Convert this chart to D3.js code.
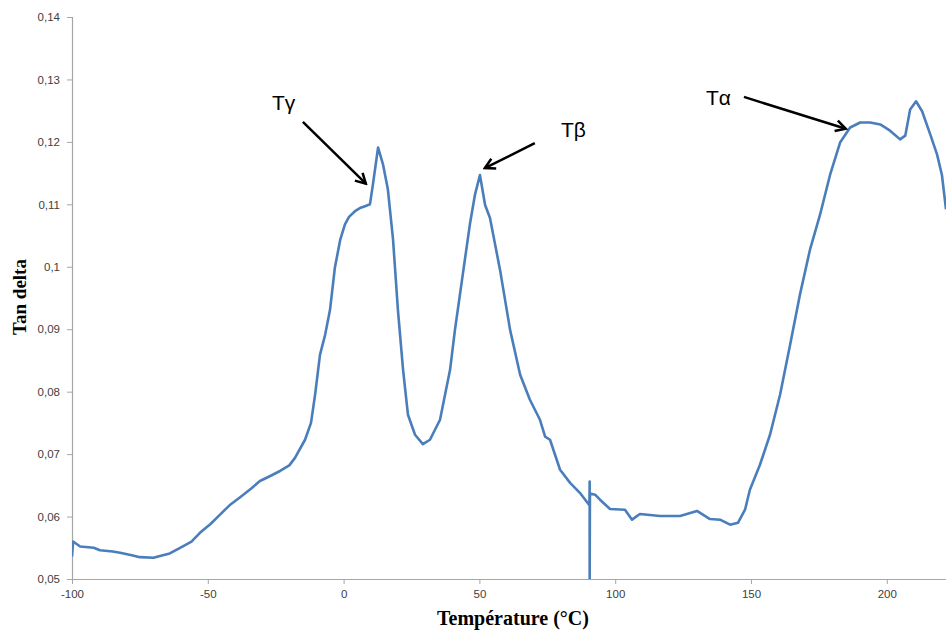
<!DOCTYPE html>
<html><head><meta charset="utf-8">
<script src="https://cdn.jsdelivr.net/npm/d3@7"></script>
<style>body{margin:0;background:#fff}svg{display:block}</style>
</head><body>
<script>
// Temperature (°C)
const temps = [-100,-99.6,-97,-92,-89.7,-85,-82.3,-78,-75,-70,-67.6,-64,-60.2,-56,-52.9,-49,-45.5,-42,-38.1,-34,-30.8,-27,-23.4,-20,-17.9,-14.2,-12,-10.5,-8.7,-6.8,-5,-3.2,-1.2,0.5,2,4.2,6,7.9,9.7,10.8,12.7,14.5,16.3,18.2,20,21.9,23.7,26.3,29.2,31.8,35.5,39.2,41,43.6,46.5,48.4,50.2,52.1,53.9,57.6,61.3,65,68.6,72.3,74.2,76,79.7,83.4,87,90.5,90.6,90.6,90.7,92.6,94.4,98.1,103.6,106.2,109.1,116.5,123.9,130.1,134.9,138.6,142.3,145.2,147.8,149.6,153.3,157,160.7,164.4,168,171.7,175.4,179.1,182.8,186.5,190.2,193.9,197.6,201.2,204.9,206.8,208.6,210.8,213,216,218.5,220.3,221.8];
// Tan delta values
const tanDelta = [0.0536,0.0560,0.0552,0.0550,0.0546,0.0544,0.0542,0.0538,0.0535,0.0534,0.0537,0.0541,0.0550,0.0560,0.0574,0.0588,0.0603,0.0618,0.0631,0.0645,0.0657,0.0665,0.0673,0.0682,0.0694,0.0723,0.0750,0.0795,0.0859,0.0891,0.0931,0.0999,0.1044,0.1068,0.1080,0.1089,0.1094,0.1097,0.1100,0.1132,0.1191,0.1164,0.1124,0.1044,0.0931,0.0835,0.0763,0.0731,0.0716,0.0723,0.0755,0.0835,0.0899,0.0979,0.1068,0.1116,0.1147,0.1099,0.1078,0.0995,0.0899,0.0827,0.0787,0.0755,0.0728,0.0723,0.0675,0.0654,0.0638,0.0618,0.0656,0.0500,0.0637,0.0635,0.0627,0.0612,0.0611,0.0595,0.0604,0.0601,0.0601,0.0609,0.0596,0.0595,0.0587,0.0590,0.0611,0.0643,0.0683,0.0731,0.0795,0.0875,0.0955,0.1027,0.1083,0.1147,0.1199,0.1223,0.1231,0.1231,0.1228,0.1218,0.1204,0.1210,0.1252,0.1265,0.1249,0.1212,0.1180,0.1147,0.1092];
const xTicks = [-100,-50,0,50,100,150,200];
const yTicks = [0.05,0.06,0.07,0.08,0.09,0.10,0.11,0.12,0.13,0.14];
const annotations = [
  {label:"Tγ", tx:-26.4, ty:0.1251, x1:-15.0, y1:0.1232, x2:8.2, y2:0.1133},
  {label:"Tβ", tx:80.0, ty:0.1208, x1:70.4, y1:0.1198, x2:52.0, y2:0.1158},
  {label:"Tα", tx:133.4, ty:0.1259, x1:147.4, y1:0.1272, x2:184.9, y2:0.1221}
];

const W = 946, H = 631;
const m = {left:72, right:0, top:17, bottom:52};
const svg = d3.select("body").append("svg").attr("width",W).attr("height",H);
const x = d3.scaleLinear().domain([-100, 221.8]).range([m.left, W - m.right]);
const y = d3.scaleLinear().domain([0.05, 0.14]).range([H - m.bottom, m.top]);
const fmt = d => d3.format(".2~f")(d).replace(".", ",");

const gx = svg.append("g").attr("transform",`translate(0,${H-m.bottom})`)
  .call(d3.axisBottom(x).tickValues(xTicks).tickSize(5).tickPadding(6).tickFormat(d=>d));
const gy = svg.append("g").attr("transform",`translate(${m.left},0)`)
  .call(d3.axisLeft(y).tickValues(yTicks).tickSize(5).tickPadding(7).tickFormat(fmt));
[gx,gy].forEach(g=>{
  g.select(".domain").attr("stroke","#a6a6a6").attr("stroke-width",1.2);
  g.selectAll(".tick line").attr("stroke","#a6a6a6");
  g.selectAll(".tick text").attr("fill","#404040").style("font-family","'Liberation Sans', Arial, sans-serif").style("font-size","11.5px");
});
gx.select(".domain").attr("d",`M${m.left},0.5H${W}`);

const data = temps.map((t,i)=>[t,tanDelta[i]]);
const defs = svg.append("defs");
defs.append("clipPath").attr("id","c").append("rect")
  .attr("x",m.left).attr("y",0).attr("width",W-m.left).attr("height",H-m.bottom);
svg.append("path").datum(data).attr("clip-path","url(#c)")
  .attr("fill","none").attr("stroke","#4a7ebb").attr("stroke-width",2.6)
  .attr("stroke-linejoin","round")
  .attr("d", d3.line().x(d=>x(d[0])).y(d=>y(d[1])));

defs.append("marker").attr("id","ah").attr("viewBox","0 0 14 14")
  .attr("refX",12).attr("refY",7).attr("markerWidth",14).attr("markerHeight",14)
  .attr("markerUnits","userSpaceOnUse")
  .attr("orient","auto").append("path").attr("d","M2,1.5L12,7L2,12.5")
  .attr("fill","none").attr("stroke","#000").attr("stroke-width",2.5).attr("stroke-linejoin","miter");

annotations.forEach(a=>{
  svg.append("text").attr("x",x(a.tx)).attr("y",y(a.ty)).attr("fill","#000")
    .style("font-family","'Liberation Sans', Arial, sans-serif").style("font-size","21px").text(a.label);
  svg.append("line").attr("x1",x(a.x1)).attr("y1",y(a.y1)).attr("x2",x(a.x2)).attr("y2",y(a.y2))
    .attr("stroke","#000").attr("stroke-width",2.5).attr("marker-end","url(#ah)");
});

svg.append("text").attr("x",513).attr("y",625).attr("text-anchor","middle")
  .style("font-family","'Liberation Serif', 'Times New Roman', serif").style("font-weight","bold").style("font-size","20px")
  .text("Température (°C)");
svg.append("text").attr("transform","translate(26,297) rotate(-90)").attr("text-anchor","middle")
  .style("font-family","'Liberation Serif', 'Times New Roman', serif").style("font-weight","bold").style("font-size","19px")
  .text("Tan delta");
</script>
</body></html>
